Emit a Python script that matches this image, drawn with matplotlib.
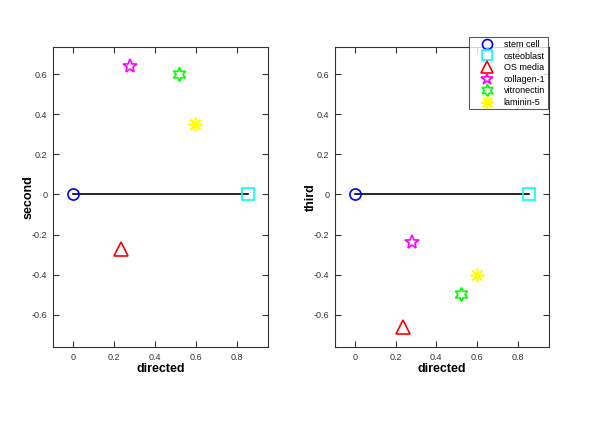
import numpy as np
import matplotlib.pyplot as plt

plt.rcParams['font.family'] = ['Liberation Sans', 'DejaVu Sans']

# sample names and marker styles
names = ['stem cell', 'osteoblast', 'OS media', 'collagen-1', 'vitronectin', 'laminin-5']
colors = ['#0000ff', '#00ffff', '#ff0000', '#ff00ff', '#00ff00', '#ffff00']
markers = ['o', 's', '^', '*', (6, 1, 0), (8, 2, 0)]
msizes = [8, 8, 10, 10, 10, 10]

# coordinates
directed = [0.0, 0.855, 0.236, 0.279, 0.520, 0.598]
second = [0.0, 0.0, -0.27, 0.64, 0.60, 0.35]
third = [0.0, 0.0, -0.66, -0.237, -0.495, -0.403]

fig = plt.figure(figsize=(6, 4.25), dpi=100)
ax1 = fig.add_axes([0.088, 0.183, 0.359, 0.707])
ax2 = fig.add_axes([0.558, 0.183, 0.357, 0.707])

handles = []
for ax, yvals, ylab in [(ax1, second, 'second'), (ax2, third, 'third')]:
    ax.plot([directed[0], directed[1]], [yvals[0], yvals[1]], 'k-', lw=1.2)
    hs = []
    for i in range(len(names)):
        h, = ax.plot(directed[i], yvals[i], linestyle='none', marker=markers[i],
                     markersize=msizes[i], markerfacecolor='none',
                     markeredgecolor=colors[i], markeredgewidth=1.2, label=names[i])
        hs.append(h)
    handles = hs
    ax.set_xlim(-0.1, 0.955)
    ax.set_ylim(-0.763, 0.738)
    ax.set_xticks([0, 0.2, 0.4, 0.6, 0.8])
    ax.set_xticklabels(['0', '0.2', '0.4', '0.6', '0.8'])
    ax.set_yticks([-0.6, -0.4, -0.2, 0, 0.2, 0.4, 0.6])
    ax.set_yticklabels(['-0.6', '-0.4', '-0.2', '0', '0.2', '0.4', '0.6'])
    ax.tick_params(direction='in', top=True, right=True, length=4, width=0.8,
                   labelsize=6.5, colors='#333333', labelcolor='#333333', pad=4)
    for s in ax.spines.values():
        s.set_color('#333333')
        s.set_linewidth(0.8)
    ax.set_xlabel('directed', fontsize=9, fontweight='bold', labelpad=1)
    ax.set_ylabel(ylab, fontsize=9, fontweight='bold')
    ax.yaxis.set_label_coords(-0.085, 0.5)

leg = fig.legend(handles=handles, loc='upper left', bbox_to_anchor=(0.782, 0.912),
                 fontsize=6.5, frameon=True, fancybox=False, edgecolor='#333333',
                 handlelength=3.4, handletextpad=0.1, labelspacing=0.28,
                 borderpad=0.3, borderaxespad=0, markerscale=0.9)
leg.get_frame().set_linewidth(0.8)

fig.savefig('out.png', dpi=100)
